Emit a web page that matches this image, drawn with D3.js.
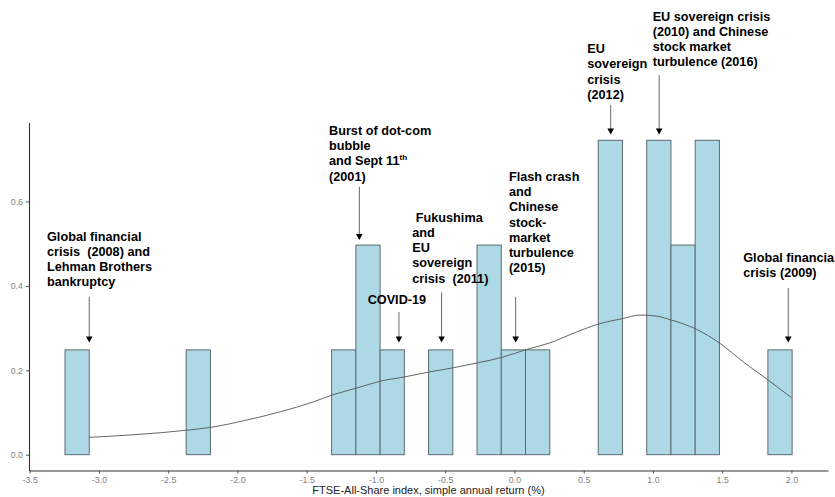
<!DOCTYPE html>
<html>
<head>
<meta charset="utf-8">
<script src="https://cdn.jsdelivr.net/npm/d3@7"></script>
<style>
  body { margin: 0; background: #fff; }
  svg { display: block; font-family: "Liberation Sans", Arial, sans-serif; }
  .tick text { fill: #7f7f7f; font-size: 8.8px; }
  .annotation-text { font-weight: bold; font-size: 12.7px; fill: #000; white-space: pre; }
</style>
</head>
<body>
<div id="chart"></div>
<script>
// histogram: 30 bins, density scale (n = 23)
const binStart = -3.245;
const binWidth = 0.175;
const binCounts = [1,0,0,0,0,1,0,0,0,0, 0,1,2,1,0,1,0,2,1,1, 0,0,3,0,3,2,3,0,0,1];
const nObs = 23;

// density curve
const curveX = [-3.07,-2.367,-2.199,-1.934,-1.693,-1.453,-1.32,-1.128,-0.971,-0.791,-0.617,-0.442,-0.261,-0.092,0.088,0.256,0.449,0.605,0.786,0.906,1.027,1.135,1.316,1.484,1.652,1.832,2.001];
const curveY = [0.041,0.058,0.0645,0.082,0.1015,0.125,0.141,0.159,0.174,0.1845,0.196,0.206,0.218,0.2305,0.2495,0.265,0.291,0.3095,0.323,0.331,0.3285,0.319,0.297,0.264,0.22,0.177,0.135];

const xTicks = [-3.5,-3.0,-2.5,-2.0,-1.5,-1.0,-0.5,0.0,0.5,1.0,1.5,2.0];
const yTicks = [0.0,0.2,0.4,0.6];

const annotations = [
  {lines: ["Global financial", "crisis  (2008) and", "Lehman Brothers", "bankruptcy"], tx: -3.375, ty: 0.507, ax: -3.07, ayTop: 0.374, ayTip: 0.266},
  {lines: ["Burst of dot-com", "bubble", "and Sept 11|th", "(2001)"], tx: -1.339, ty: 0.758, ax: -1.12, ayTop: 0.635, ayTip: 0.509},
  {lines: ["COVID-19"], tx: -1.06, ty: 0.357, ax: -0.834, ayTop: 0.338, ayTip: 0.266},
  {lines: [" Fukushima", "and", "EU", "sovereign", "crisis  (2011)"], tx: -0.738, ty: 0.552, ax: -0.526, ayTop: 0.385, ayTip: 0.266},
  {lines: ["Flash crash", "and", "Chinese", "stock-", "market", "turbulence", "(2015)"], tx: -0.04, ty: 0.649, ax: 0.009, ayTop: 0.374, ayTip: 0.266},
  {lines: ["EU", "sovereign", "crisis", "(2012)"], tx: 0.526, ty: 0.952, ax: 0.695, ayTop: 0.829, ayTip: 0.759},
  {lines: ["EU sovereign crisis", "(2010) and Chinese", "stock market", "turbulence (2016)"], tx: 0.998, ty: 1.029, ax: 1.045, ayTop: 0.9, ayTip: 0.759},
  {lines: ["Global financial", "crisis (2009)"], tx: 1.652, ty: 0.457, ax: 1.977, ayTop: 0.395, ayTip: 0.266}
];

const width = 835, height = 497;
const svg = d3.select("#chart").append("svg")
  .attr("width", width)
  .attr("height", height);

const xScale = d3.scaleLinear().domain([-3.505, 2.264]).range([29, 828]);
const yScale = d3.scaleLinear().domain([-0.0375, 0.7875]).range([470.5, 122.5]);

const bins = binCounts.map((c, i) => ({
  x0: binStart + i * binWidth,
  x1: binStart + (i + 1) * binWidth,
  density: c / (nObs * binWidth)
}));

svg.append("g").selectAll("rect")
  .data(bins)
  .enter()
  .append("rect")
  .attr("x", d => xScale(d.x0))
  .attr("width", d => xScale(d.x1) - xScale(d.x0))
  .attr("y", d => yScale(d.density))
  .attr("height", d => yScale(0) - yScale(d.density))
  .attr("fill", "#add8e6")
  .attr("stroke", "#5e6b70")
  .attr("stroke-width", 1);

const line = d3.line()
  .x((d, i) => xScale(curveX[i]))
  .y((d, i) => yScale(curveY[i]))
  .curve(d3.curveMonotoneX);

svg.append("path")
  .datum(curveX)
  .attr("d", line)
  .attr("fill", "none")
  .attr("stroke", "#555")
  .attr("stroke-width", 0.9);

// axes
const xAxis = d3.axisBottom(xScale)
  .tickValues(xTicks)
  .tickFormat(d => d.toFixed(1))
  .tickSize(3)
  .tickSizeOuter(0)
  .tickPadding(3);
const yAxis = d3.axisLeft(yScale)
  .tickValues(yTicks)
  .tickFormat(d => d.toFixed(1))
  .tickSize(3)
  .tickSizeOuter(0)
  .tickPadding(3);

const gx = svg.append("g").attr("transform", `translate(0,${yScale.range()[0]})`).call(xAxis);
const gy = svg.append("g").attr("transform", `translate(${xScale.range()[0]},0)`).call(yAxis);
[gx, gy].forEach(g => {
  g.select(".domain").attr("stroke", "#333").attr("stroke-width", 1.1);
  g.selectAll(".tick line").attr("stroke", "#555");
});

svg.append("text")
  .attr("x", (xScale.range()[0] + xScale.range()[1]) / 2)
  .attr("y", 494)
  .attr("text-anchor", "middle")
  .attr("font-size", "11px")
  .attr("fill", "#222")
  .text("FTSE-All-Share index, simple annual return (%)");

// annotations
const lineGap = 15.2;
annotations.forEach(a => {
  const x0 = xScale(a.tx), y0 = yScale(a.ty);
  const t = svg.append("text")
    .attr("class", "annotation-text")
    .attr("x", x0)
    .attr("y", y0);
  a.lines.forEach((l, i) => {
    const parts = l.split("|");
    t.append("tspan")
      .attr("x", x0)
      .attr("y", y0 + i * lineGap)
      .text(parts[0]);
    if (parts[1]) {
      t.append("tspan")
        .attr("font-size", "8px")
        .attr("dy", -5)
        .text(parts[1]);
    }
  });

  const ax = xScale(a.ax), tip = yScale(a.ayTip);
  svg.append("line")
    .attr("x1", ax).attr("x2", ax)
    .attr("y1", yScale(a.ayTop)).attr("y2", tip - 5)
    .attr("stroke", "#666")
    .attr("stroke-width", 1);
  svg.append("path")
    .attr("d", `M${ax - 3.3},${tip - 6} L${ax + 3.3},${tip - 6} L${ax},${tip} Z`)
    .attr("fill", "#000");
});
</script>
</body>
</html>
